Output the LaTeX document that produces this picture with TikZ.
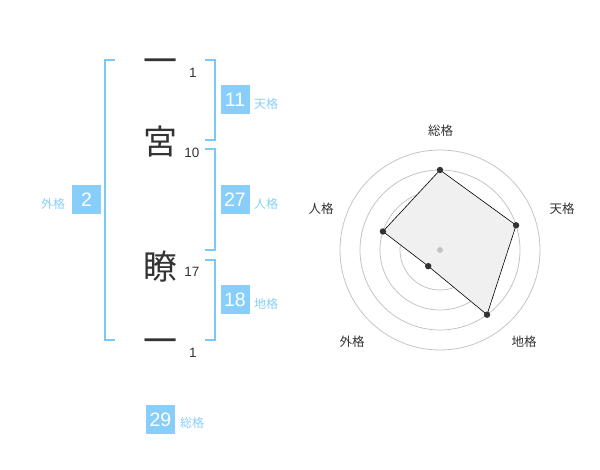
\documentclass[tikz,border=0pt]{standalone}
\usepackage{fontspec}
\setmainfont{Liberation Sans}
\newfontfamily\jp{Noto Sans CJK JP}
\usetikzlibrary{positioning}
\definecolor{sky}{HTML}{87CEFA}
\definecolor{skyline}{HTML}{7CC8F6}
\definecolor{ink}{HTML}{333333}
\definecolor{ring}{HTML}{C4C4C4}
\definecolor{area}{HTML}{F0F0F0}
\begin{document}
\begin{tikzpicture}[x=1pt,y=-1pt]
\tikzstyle{every node}+=[inner sep=0pt]
\tikzstyle{kanji}=[font=\jp\fontsize{34}{34}\selectfont, text=ink]
\tikzstyle{strokes}=[font=\fontsize{13.5}{14}\selectfont, text=ink]
\tikzstyle{kaku}=[fill=sky, text=white, minimum size=29pt, font=\fontsize{19.5}{19.5}\selectfont]
\tikzstyle{kakuname}=[font=\jp\fontsize{12}{12}\selectfont, text=sky]
\tikzstyle{axisname}=[font=\jp\fontsize{12.5}{12.5}\selectfont, text=ink]
\tikzstyle{brak}=[draw=skyline, line width=1.8pt]
\tikzstyle{dot}=[fill=ink]
\useasboundingbox (0,0) rectangle (600,470);
\node[kanji] (c1) at (160,66) {一};
\node[kanji] (c2) at (160,142) {宮};
\node[kanji] (c3) at (160,267) {瞭};
\node[kanji] (c4) at (160,346) {一};
\node[strokes] (n1) at (193,73) {1};
\node[strokes] (n2) at (192,153) {10};
\node[strokes] (n3) at (192,272) {17};
\node[strokes] (n4) at (193,353) {1};
\draw [brak] (115,60) -- (105,60) -- (105,340) -- (115,340);
\draw [brak] (205,60) -- (215,60) -- (215,140) -- (205,140);
\draw [brak] (205,149) -- (215,149) -- (215,250) -- (205,250);
\draw [brak] (205,260) -- (215,260) -- (215,340) -- (205,340);
\node[kaku] (ten) at (235,100) {11};
\node[kakuname] (tenname) at (266,104) {天格};
\node[kaku] (jin) at (235,200) {27};
\node[kakuname] (jinname) at (266,204) {人格};
\node[kaku] (chi) at (235,300) {18};
\node[kakuname] (chiname) at (266,304) {地格};
\node[kaku] (gai) at (86.5,200) {2};
\node[kakuname] (gainame) at (53,204) {外格};
\node[kaku] (sou) at (160.5,419.5) {29};
\node[kakuname] (souname) at (192,423) {総格};
\coordinate (ctr) at (440,250);
\foreach \r in {20,40,...,100}
  \draw [ring, line width=0.8pt] (ctr) circle (\r pt);
\path (ctr) ++(90:80pt) coordinate (rsou);
\path (ctr) ++(18:80pt) coordinate (rten);
\path (ctr) ++(-54:80pt) coordinate (rchi);
\path (ctr) ++(-126:20pt) coordinate (rgai);
\path (ctr) ++(162:60pt) coordinate (rjin);
\draw [fill=area, draw=black, line width=0.6pt] (rsou) -- (rten) -- (rchi) -- (rgai) -- (rjin) -- cycle;
\foreach \p in {rsou,rten,rchi,rgai,rjin}
  \fill [dot] (\p) circle (3.2pt);
\fill [ring] (ctr) circle (3pt);
\node[axisname] (asou) at (440.5,131) {総格};
\node[axisname] (aten) at (562,209) {天格};
\node[axisname] (achi) at (524,342) {地格};
\node[axisname] (agai) at (352,342) {外格};
\node[axisname] (ajin) at (321,209) {人格};
\end{tikzpicture}
\end{document}
